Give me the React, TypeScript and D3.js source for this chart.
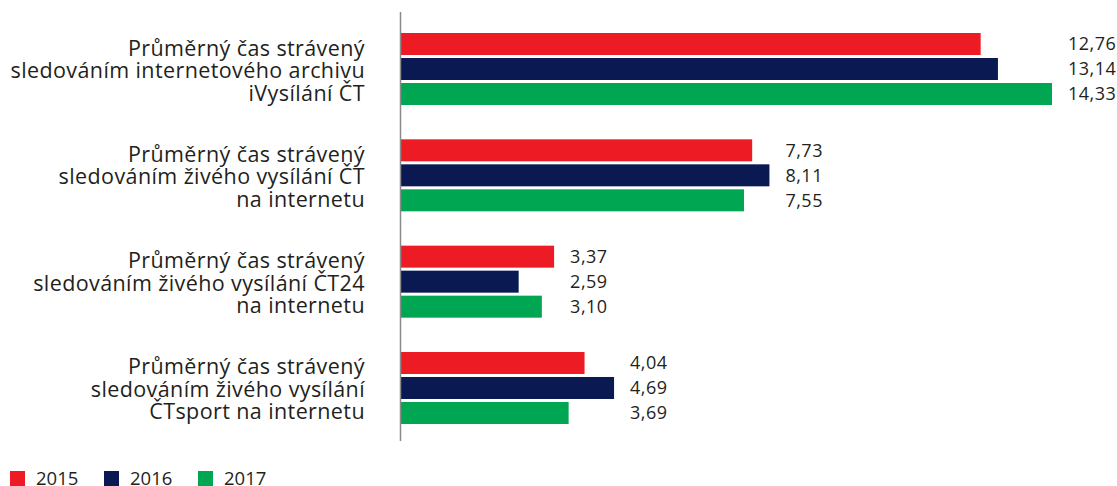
import React from "react";
import * as d3 from "d3";

const categories: string[][] = [
  ["Průměrný čas strávený", "sledováním internetového archivu", "iVysílání ČT"],
  ["Průměrný čas strávený", "sledováním živého vysílání ČT", "na internetu"],
  ["Průměrný čas strávený", "sledováním živého vysílání ČT24", "na internetu"],
  ["Průměrný čas strávený", "sledováním živého vysílání", "ČTsport na internetu"],
];
const years = ["2015", "2016", "2017"];
const values2015 = [12.76, 7.73, 3.37, 4.04];
const values2016 = [13.14, 8.11, 2.59, 4.69];
const values2017 = [14.33, 7.55, 3.1, 3.69];
const colors = ["#ED1C24", "#0B1953", "#00A651"];

const W = 1117;
const H = 486;
const FONT = "'Open Sans', 'Noto Sans', sans-serif";
const TEXT = "#231f20";

export default function App() {
  const series = [values2015, values2016, values2017];
  const idx = categories.map((_, i) => String(i));
  const y0 = d3.scaleBand<string>().domain(idx).range([31.5, 31.5 + 4 * 106.33 - 31.33]).paddingInner(31.33 / 106.33).paddingOuter(0);
  const y1 = d3.scaleBand<string>().domain(years).range([0, y0.bandwidth()]).paddingInner(0.12).paddingOuter(0.06);
  const x = d3.scaleLinear().domain([0, 14.33]).range([401, 1052]);
  const fmt = (v: number) => d3.format(".2f")(v).replace(".", ",");

  return (
    <svg width={W} height={H} style={{ position: "absolute", left: 0, top: 0, background: "#fff" }} fontFamily={FONT}>
      {idx.map((k, i) => {
        const gy = y0(k)!;
        const maxV = d3.max(series, (s) => s[i])!;
        const center = gy + y0.bandwidth() / 2;
        return (
          <g key={k}>
            {series.map((s, j) => (
              <rect key={j} x={x(0)} y={gy + y1(years[j])!} width={x(s[i]) - x(0)} height={y1.bandwidth()} fill={colors[j]} />
            ))}
            {series.map((s, j) => (
              <text key={"t" + j} x={x(maxV) + 16} y={gy + y1(years[j])! + y1.bandwidth() / 2} dy="0.36em" fontSize={18} letterSpacing={0.5} fill={TEXT}>
                {fmt(s[i])}
              </text>
            ))}
            {categories[i].map((line, l) => (
              <text key={"c" + l} x={365} y={center + 9 + (l - 1) * 22.5} textAnchor="end" fontSize={21.5} letterSpacing={0.4} fill={TEXT}>
                {line}
              </text>
            ))}
          </g>
        );
      })}
      <line x1={400.5} x2={400.5} y1={12} y2={441} stroke="#8a8a8a" strokeWidth={1.5} />
      {years.map((yr, j) => (
        <g key={yr} transform={`translate(${10 + j * 94},471)`}>
          <rect x={0} y={0} width={15} height={15} fill={colors[j]} />
          <text x={26} y={14} fontSize={18.5} fill={TEXT}>{yr}</text>
        </g>
      ))}
    </svg>
  );
}
